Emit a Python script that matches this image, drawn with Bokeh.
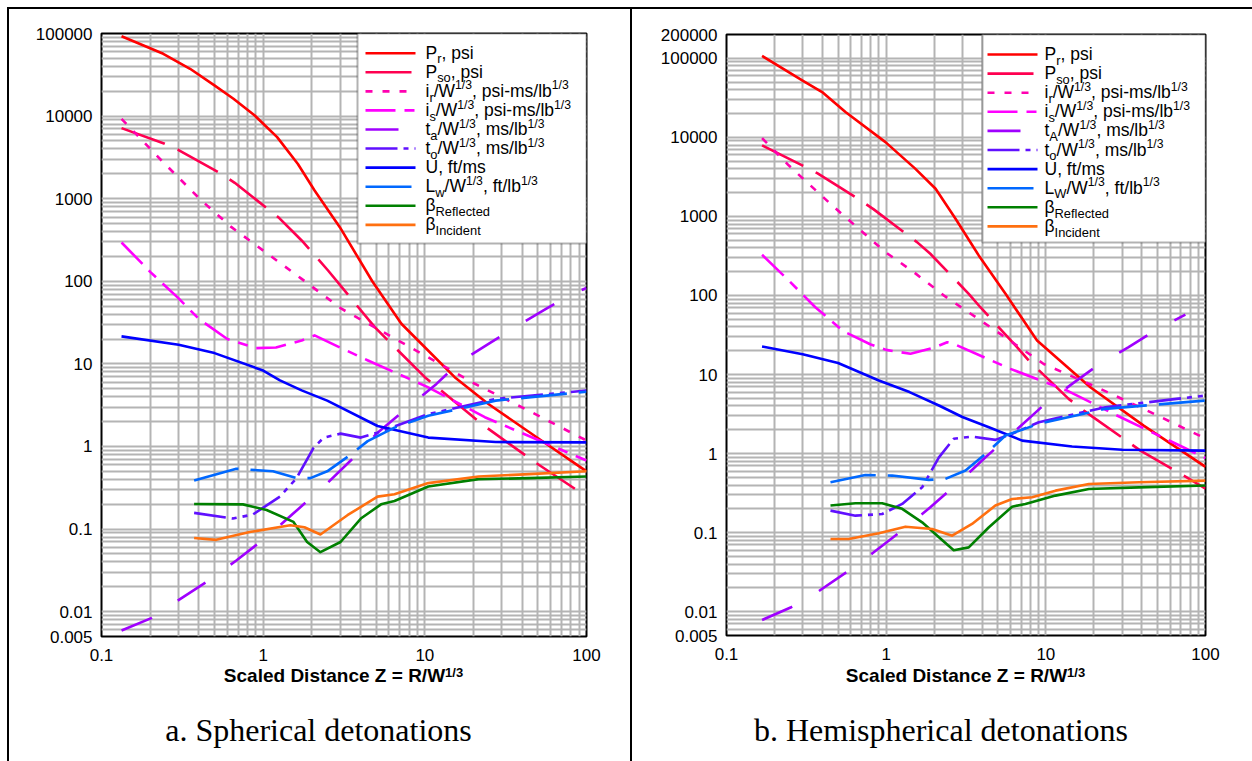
import math
from bokeh.plotting import figure
from bokeh.models import (Range1d, FixedTicker, CustomJSTickFormatter, LabelSet,
                          ColumnDataSource, BoxAnnotation, Div)
from bokeh.layouts import row, column
from bokeh.core.properties import value, field
from bokeh.embed import file_html
from bokeh.resources import INLINE

# ---------------- data: spherical detonations ----------------
sph_pr_z = [0.133, 0.241, 0.353, 0.502, 0.655, 0.887, 1.22, 1.64, 2.08, 2.98, 4.73, 7.16, 10.0, 15.3, 24.6, 52.6, 100]
sph_pr = [92700, 56800, 37400, 23400, 16200, 10150, 5560, 2630, 1256, 452, 100, 30.6, 15.9, 6.9, 3.29, 1.18, 0.5]
sph_pso_z = [0.133, 0.246, 0.298, 0.552, 0.667, 1.24, 1.73, 2.52, 4.9, 10, 22.4, 47.9, 100]
sph_pso = [7150, 4620, 3910, 2000, 1556, 597, 312, 135, 27.8, 6.9, 1.88, 0.646, 0.248]
sph_ir_z = [0.133, 0.235, 0.415, 0.637, 1.73, 3.05, 10.5, 20.4, 43.5, 100]
sph_ir = [9270, 2900, 950, 452, 107, 46.5, 12.0, 5.74, 2.73, 1.18]
sph_is_z = [0.133, 0.2, 0.3, 0.4, 0.6, 0.9, 1.2, 1.73, 2.08, 3.0, 4.45, 10.5, 23.5, 100]
sph_is = [295, 130, 62, 35, 20, 15.5, 15.8, 19.2, 22.1, 15.7, 11.0, 5.2, 2.26, 0.675]
sph_ta_z = [0.133, 0.205, 0.301, 0.465, 0.682, 1.05, 1.54, 2.37, 3.48, 5.1, 7.86, 11.8, 16.4, 25.2, 36.8, 56.5, 82, 100]
sph_ta = [0.0059, 0.0084, 0.0139, 0.0241, 0.0416, 0.08, 0.155, 0.327, 0.675, 1.47, 2.97, 5.72, 10.5, 17.8, 28.4, 46.5, 70.6, 83]
sph_to_z = [0.374, 0.65, 0.864, 1.27, 1.61, 2.05, 2.37, 3.01, 4.02, 5.1, 10.5, 27.4, 100]
sph_to = [0.157, 0.134, 0.15, 0.247, 0.414, 0.964, 1.28, 1.43, 1.28, 1.47, 2.46, 3.76, 4.76]
sph_lw_z = [0.374, 0.682, 1.15, 1.61, 1.96, 2.49, 3.48, 4.43, 6.49, 10.5, 27.4, 100]
sph_lw = [0.387, 0.538, 0.5, 0.414, 0.414, 0.5, 0.797, 1.16, 1.69, 2.35, 3.59, 4.6]
sph_u_z = [0.133, 0.3, 0.5, 1.0, 1.27, 1.73, 2.49, 5.1, 10.5, 27.4, 100]
sph_u = [21.5, 17, 13.5, 8.3, 6.3, 4.77, 3.59, 1.77, 1.28, 1.13, 1.12]
sph_br_z = [0.374, 0.75, 1.05, 1.54, 1.87, 2.26, 3.01, 4.02, 5.36, 6.49, 10.5, 21.5, 44.2, 100]
sph_br = [0.201, 0.199, 0.17, 0.122, 0.0697, 0.0525, 0.0697, 0.134, 0.199, 0.219, 0.327, 0.402, 0.413, 0.433]
sph_bi_z = [0.374, 0.512, 0.826, 1.47, 1.8, 2.26, 3.32, 5.1, 6.49, 10.5, 21.5, 44.2, 100]
sph_bi = [0.078, 0.074, 0.092, 0.111, 0.105, 0.086, 0.147, 0.247, 0.264, 0.36, 0.433, 0.462, 0.5]

# ---------------- data: hemispherical detonations ----------------
hem_pr_z = [0.167, 0.298, 0.397, 0.556, 0.99, 1.52, 2.04, 2.72, 3.8, 5.59, 8.81, 19, 41, 100]
hem_pr = [107000, 52700, 37400, 20900, 8710, 4020, 2240, 935, 321, 105, 26.9, 6.9, 2.26, 0.68]
hem_pso_z = [0.167, 0.305, 0.37, 0.69, 0.836, 1.56, 1.89, 3.29, 3.89, 6.6, 7.82, 13.9, 17.3, 31.5, 39.1, 73.1, 100]
hem_pso = [7930, 4330, 3530, 1596, 1228, 473, 337, 105, 71, 22.2, 15, 4.92, 3.5, 1.49, 1.09, 0.527, 0.36]
hem_ir_z = [0.167, 0.245, 0.459, 0.99, 1.49, 2.33, 4.5, 9.7, 20.9, 45.2, 100]
hem_ir = [9790, 4430, 1377, 353, 197, 98, 39.7, 13.6, 6.9, 3.34, 1.55]
hem_is_z = [0.167, 0.245, 0.36, 0.543, 0.8, 1.0, 1.42, 2.0, 2.41, 2.65, 4.0, 6.0, 13.6, 27.9, 100]
hem_is = [327, 155, 71, 35, 24, 20.5, 18.3, 22, 25.6, 24.4, 16.9, 11.8, 6.27, 3.03, 0.88]
hem_ta_z = [0.167, 0.252, 0.375, 0.57, 0.836, 1.29, 1.89, 2.92, 4.19, 6.46, 9.49, 14.6, 21.4, 33, 48.5, 74.8]
hem_ta = [0.00785, 0.0113, 0.018, 0.032, 0.0564, 0.111, 0.209, 0.455, 0.897, 1.95, 3.94, 7.62, 13.3, 22.2, 36.1, 57.4]
hem_to_z = [0.448, 0.642, 0.944, 1.26, 1.68, 2.14, 2.65, 3.45, 4.83, 6.15, 9.04, 23.6, 100]
hem_to = [0.19, 0.164, 0.172, 0.231, 0.374, 0.897, 1.54, 1.64, 1.49, 1.78, 2.49, 3.86, 5.42]
hem_lw_z = [0.448, 0.741, 1.09, 1.85, 2.35, 3.14, 4.19, 5.59, 9.04, 23.6, 100]
hem_lw = [0.434, 0.537, 0.527, 0.465, 0.479, 0.61, 0.99, 1.69, 2.38, 3.68, 4.69]
hem_u_z = [0.167, 0.3, 0.5, 0.9, 1.4, 2.14, 3.0, 4.4, 7.11, 14.6, 30.1, 100]
hem_u = [22.6, 18, 14, 8.4, 6.0, 4.06, 2.9, 2.15, 1.46, 1.23, 1.12, 1.09]
hem_br_z = [0.448, 0.642, 0.944, 1.26, 1.68, 2.14, 2.65, 3.29, 4.4, 6.15, 7.45, 11.5, 18.6, 38.2, 100]
hem_br = [0.22, 0.235, 0.235, 0.2, 0.135, 0.0873, 0.06, 0.0651, 0.117, 0.213, 0.231, 0.294, 0.357, 0.374, 0.394]
hem_bi_z = [0.448, 0.583, 0.9, 1.32, 1.94, 2.59, 3.45, 4.83, 6.15, 8.2, 11.5, 18.6, 38.2, 100]
hem_bi = [0.0832, 0.0832, 0.098, 0.119, 0.111, 0.0916, 0.129, 0.22, 0.267, 0.28, 0.34, 0.413, 0.433, 0.455]

# ---------------- ticks / labels ----------------
x_ticks = [0.1, 1, 10, 100]
sph_y_ticks = [0.005, 0.01, 0.1, 1, 10, 100, 1000, 10000, 100000]
hem_y_ticks = [0.005, 0.01, 0.1, 1, 10, 100, 1000, 10000, 100000, 200000]
x_title_main = "Scaled Distance Z = R/W"
x_title_sup = "1/3"
sph_caption = "a. Spherical detonations"
hem_caption = "b. Hemispherical detonations"

sph_legend = [
    [("P", "n"), ("r", "sub"), (", psi", "n")],
    [("P", "n"), ("so", "sub"), (", psi", "n")],
    [("i", "n"), ("r", "sub"), ("/W", "n"), ("1/3", "sup"), (", psi-ms/lb", "n"), ("1/3", "sup")],
    [("i", "n"), ("s", "sub"), ("/W", "n"), ("1/3", "sup"), (", psi-ms/lb", "n"), ("1/3", "sup")],
    [("t", "n"), ("a", "sub"), ("/W", "n"), ("1/3", "sup"), (", ms/lb", "n"), ("1/3", "sup")],
    [("t", "n"), ("o", "sub"), ("/W", "n"), ("1/3", "sup"), (", ms/lb", "n"), ("1/3", "sup")],
    [("U, ft/ms", "n")],
    [("L", "n"), ("w", "sub"), ("/W", "n"), ("1/3", "sup"), (", ft/lb", "n"), ("1/3", "sup")],
    [("β", "n"), ("Reflected", "sub")],
    [("β", "n"), ("Incident", "sub")],
]
hem_legend = [list(r) for r in sph_legend]
hem_legend[4] = [("t", "n"), ("A", "sub"), ("/W", "n"), ("1/3", "sup"), (", ms/lb", "n"), ("1/3", "sup")]
hem_legend[7] = [("L", "n"), ("W", "sub"), ("/W", "n"), ("1/3", "sup"), (", ft/lb", "n"), ("1/3", "sup")]

# styles per series (same order as legend)
STYLES = [
    dict(color="#ff0000", dash="solid"),
    dict(color="#ff0050", dash="46 14"),
    dict(color="#ff00b0", dash="7 10"),
    dict(color="#ff00ff", dash="30 9 10 9"),
    dict(color="#a000ff", dash="33 31"),
    dict(color="#6010ff", dash="32 6 5 6 5 6"),
    dict(color="#0000ff", dash="solid"),
    dict(color="#0068ff", dash="46 12"),
    dict(color="#008000", dash="solid"),
    dict(color="#ff7010", dash="solid"),
]

W_REG = {' ': 278, ',': 278, '-': 333, '.': 278, '/': 278, '1': 556, '3': 556, '=': 584,
         'A': 667, 'D': 722, 'I': 278, 'L': 556, 'P': 667, 'R': 722, 'S': 667, 'U': 722,
         'W': 944, 'Z': 611, 'a': 556, 'b': 556, 'c': 500, 'd': 556, 'e': 556, 'f': 278,
         'i': 222, 'l': 222, 'm': 833, 'n': 556, 'o': 556, 'p': 556, 'r': 333, 's': 500,
         't': 278, 'w': 722, 'β': 575}

PAGE_H = 752   # height below the top frame line
FIG_H = 659    # figure canvas height (page y 9..668)
CAP_H = PAGE_H - FIG_H


def text_w(s, size):
    return sum(W_REG.get(ch, 556) for ch in s) / 1000.0 * size


def rich(pieces, x0, y0, F):
    xs, ys, ts, ss = [], [], [], []
    x = x0
    for txt, kind in pieces:
        if kind == "n":
            size, dy = F, 0.0
        elif kind == "sub":
            size, dy = 0.74 * F, -0.27 * F
        else:
            size, dy = 0.7 * F, 0.42 * F
        xs.append(x); ys.append(y0 + dy); ts.append(txt); ss.append("%.1fpx" % size)
        x += text_w(txt, size)
    return xs, ys, ts, ss


def panel(width, bl, br, bt, bb, ymax, yticks, series, legend, leg_box, leg_rows):
    fw = width - bl - br
    fh = FIG_H - bt - bb
    ylo, yhi = math.log10(0.005), math.log10(ymax)
    p = figure(width=width, height=FIG_H, x_axis_type="log", y_axis_type="log",
               x_range=Range1d(0.1, 100), y_range=Range1d(0.005, ymax),
               output_backend="svg", toolbar_location=None,
               min_border_left=bl, min_border_right=br, min_border_top=bt, min_border_bottom=bb,
               background_fill_color="white", border_fill_color="white")
    p.margin = (0, 0, 0, 0)
    p.title.text = ""
    p.outline_line_color = "black"
    p.outline_line_width = 2
    fmt = CustomJSTickFormatter(code="return String(tick);")
    p.xaxis.ticker = FixedTicker(ticks=x_ticks)
    p.yaxis.ticker = FixedTicker(ticks=yticks)
    for ax in (p.xaxis[0], p.yaxis[0]):
        ax.formatter = fmt
        ax.major_tick_line_color = None
        ax.minor_tick_line_color = None
        ax.major_tick_in = 0
        ax.major_tick_out = 0
        ax.minor_tick_out = 0
        ax.axis_line_color = None
        ax.major_label_text_font = "Liberation Sans"
        ax.major_label_text_font_size = "17px"
        ax.major_label_text_color = "black"
    p.xaxis.major_label_standoff = 12
    p.yaxis.major_label_standoff = 9

    xg = [m * 10.0 ** e for e in range(-1, 2) for m in range(1, 10)] + [100.0]
    yg = [m * 10.0 ** e for e in range(-3, 6) for m in range(1, 10)]
    yg = [v for v in yg if 0.005 <= v <= ymax * 1.0001]
    p.xgrid.ticker = FixedTicker(ticks=xg)
    p.ygrid.ticker = FixedTicker(ticks=yg)
    for g in (p.xgrid[0], p.ygrid[0]):
        g.grid_line_color = "#b4b4b4"
        g.grid_line_width = 2
        g.minor_grid_line_color = None

    # curves
    for (zs, vs), st in zip(series, STYLES):
        p.line(zs, vs, line_color=st["color"], line_width=2.6, line_dash=st["dash"],
               line_join="round")

    # legend box (screen units relative to the frame)
    lx0, lx1, ly_bottom = leg_box
    p.add_layout(BoxAnnotation(left=lx0, right=lx1, top=fh, bottom=ly_bottom,
                               left_units="screen", right_units="screen",
                               top_units="screen", bottom_units="screen",
                               fill_color="white", fill_alpha=1.0, line_color="black",
                               line_width=2, level="underlay"))

    def to_data(sx, sy):
        return 10 ** (-1 + sx * 3.0 / fw), 10 ** (ylo + sy * (yhi - ylo) / fh)

    s0, s1, tx, y_first, dy_row = leg_rows
    xs, ys, ts, ss = [], [], [], []
    for i, (pieces, st) in enumerate(zip(legend, STYLES)):
        cy = fh - (y_first + dy_row * i)
        a = to_data(s0, cy)
        b = to_data(s1, cy)
        p.line([a[0], b[0]], [a[1], b[1]], line_color=st["color"], line_width=2.6,
               line_dash=st["dash"])
        rx, ry, rt, rs = rich(pieces, tx, cy - 5.5, 17.5)
        xs += rx; ys += ry; ts += rt; ss += rs
    src = ColumnDataSource(dict(x=xs, y=ys, text=ts, size=ss))
    p.add_layout(LabelSet(x="x", y="y", text="text", source=src, x_units="screen",
                          y_units="screen", text_font=value("Liberation Sans"),
                          text_font_size=field("size"), text_color="black",
                          text_baseline="alphabetic", text_align="left"))
    return p


def caption_block(width, title_cx, cap_cx, caption):
    html = (
        '<div style="position:relative;width:%dpx;height:%dpx;overflow:visible;">'
        '<div style="position:absolute;left:%.1fpx;top:0px;transform:translateX(-50%%);'
        'white-space:nowrap;font-family:\'Liberation Sans\',Arial,sans-serif;font-weight:bold;'
        'font-size:19px;line-height:15px;color:#000;">%s'
        '<span style="font-size:13px;position:relative;top:-5px;">%s</span></div>'
        '<div style="position:absolute;left:%.1fpx;top:46px;transform:translateX(-50%%);'
        'white-space:nowrap;font-family:\'Liberation Serif\',\'Times New Roman\',serif;'
        'font-size:32px;line-height:32px;color:#000;">%s</div>'
        '</div>'
    ) % (width, CAP_H, title_cx, x_title_main, x_title_sup, cap_cx, caption)
    return Div(text=html, width=width, height=CAP_H, margin=(0, 0, 0, 0))


sph_series = [(sph_pr_z, sph_pr), (sph_pso_z, sph_pso), (sph_ir_z, sph_ir), (sph_is_z, sph_is),
              (sph_ta_z, sph_ta), (sph_to_z, sph_to), (sph_u_z, sph_u), (sph_lw_z, sph_lw),
              (sph_br_z, sph_br), (sph_bi_z, sph_bi)]
hem_series = [(hem_pr_z, hem_pr), (hem_pso_z, hem_pso), (hem_ir_z, hem_ir), (hem_is_z, hem_is),
              (hem_ta_z, hem_ta), (hem_to_z, hem_to), (hem_u_z, hem_u), (hem_lw_z, hem_lw),
              (hem_br_z, hem_br), (hem_bi_z, hem_bi)]

# panel 1: page x 9..630, frame 101..586 x 33..636
p1 = panel(621, 92, 44, 24, 32, 100000, sph_y_ticks, sph_series, sph_legend,
           (256, 485, 393), (264, 314, 324, 19.7, 19.07))
# panel 2: page x 632..1252, frame 726..1205 x 34..635
p2 = panel(620, 94, 47, 25, 33, 200000, hem_y_ticks, hem_series, hem_legend,
           (256, 479, 393), (261, 311, 318, 20.0, 19.1))

c1 = caption_block(621, 343.5 - 9, 318.5 - 9, sph_caption)
c2 = caption_block(620, 965.5 - 632, 941 - 632, hem_caption)


def blank(w, h):
    return Div(text="", width=w, height=h, margin=(0, 0, 0, 0))


def black(w, h):
    return Div(text="", width=w, height=h, margin=(0, 0, 0, 0),
               styles={"background-color": "black"})


layout = column(
    blank(1252, 7),
    row(blank(7, 2), black(1245, 2), spacing=0),
    row(blank(7, PAGE_H), black(2, PAGE_H),
        column(p1, c1, spacing=0),
        black(2, PAGE_H),
        column(p2, c2, spacing=0), spacing=0),
    spacing=0,
)
open("out.html", "w").write(file_html(layout, INLINE))
